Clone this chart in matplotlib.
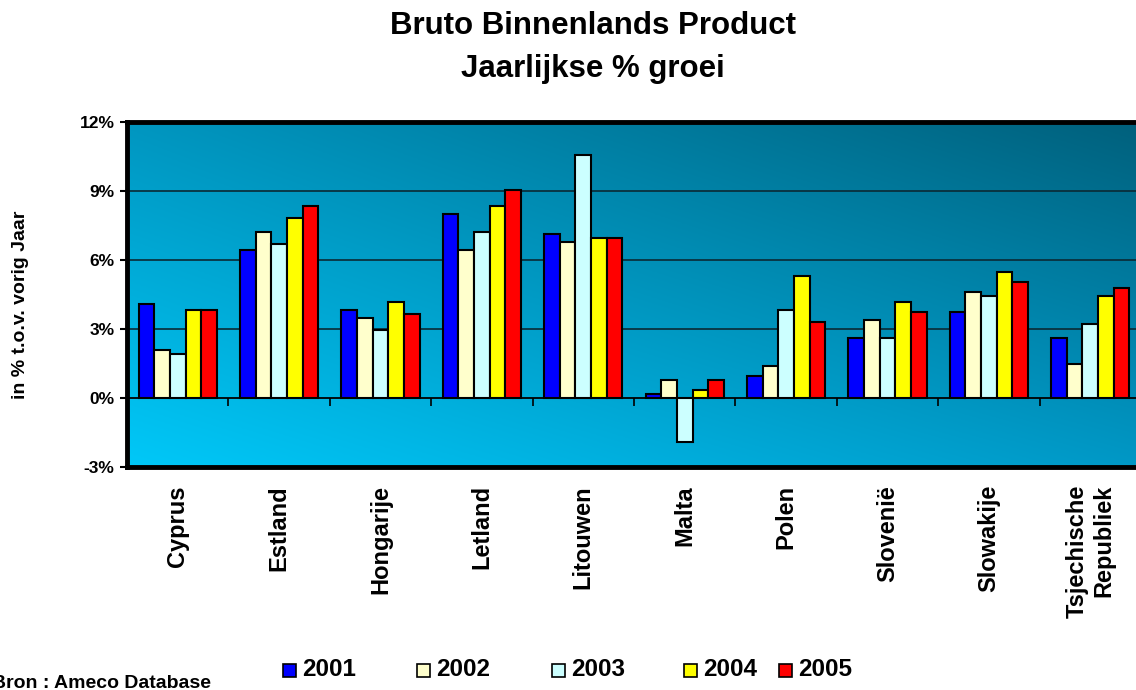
import numpy as np
import matplotlib
matplotlib.use("Agg")
import matplotlib.pyplot as plt
from matplotlib.patches import Rectangle

plt.rcParams['font.family'] = ['Liberation Sans', 'DejaVu Sans']

countries = ["Cyprus", "Estland", "Hongarije", "Letland", "Litouwen", "Malta",
             "Polen", "Slovenië", "Slowakije", "Tsjechische\nRepubliek"]
years = ["2001", "2002", "2003", "2004", "2005"]
g2001 = [4.1, 6.45, 3.84, 8.0, 7.14, 0.19, 0.97, 2.62, 3.75, 2.62]
g2002 = [2.1, 7.23, 3.49, 6.45, 6.8, 0.8, 1.41, 3.4, 4.62, 1.46]
g2003 = [1.9, 6.7, 2.97, 7.23, 10.55, -1.93, 3.84, 2.62, 4.45, 3.23]
g2004 = [3.83, 7.84, 4.17, 8.36, 6.97, 0.35, 5.32, 4.19, 5.49, 4.45]
g2005 = [3.83, 8.36, 3.66, 9.06, 6.97, 0.8, 3.32, 3.75, 5.06, 4.8]
series = [g2001, g2002, g2003, g2004, g2005]
colors = ["#0000FF", "#FFFFCC", "#CCFFFF", "#FFFF00", "#FF0000"]
yticks = [-3, 0, 3, 6, 9, 12]

fig = plt.figure(figsize=(11.36, 6.9), dpi=100)
ax = fig.add_axes([127/1136, 1-467/690, 1014/1136, 345/690])

# gradient background
ny, nx = 200, 300
yy, xx = np.mgrid[0:1:ny*1j, 0:1:nx*1j]  # yy 0 top -> 1 bottom
TL = np.array([0, 150, 192]); TR = np.array([0, 96, 124])
BL = np.array([0, 200, 248]); BR = np.array([0, 152, 198])
img = ((1-yy)[..., None]*((1-xx)[..., None]*TL + xx[..., None]*TR) +
       yy[..., None]*((1-xx)[..., None]*BL + xx[..., None]*BR)) / 255.0
ax.imshow(img, extent=[0, 1, 0, 1], transform=ax.transAxes, aspect='auto', zorder=0)

x = np.arange(len(countries))
w = 0.154
for k, (vals, c, yr) in enumerate(zip(series, colors, years)):
    ax.bar(x + (k-2)*w, vals, width=w, color=c, edgecolor='black', linewidth=1.5,
           zorder=3, label=yr)

ax.set_xlim(-0.5, len(countries)-0.5)
ax.set_ylim(-3, 12)
for gy in [3, 6, 9]:
    ax.axhline(gy, color='#0a2a35', linewidth=1.2, zorder=1)
ax.axhline(0, color='black', linewidth=1.3, zorder=2)
ax.vlines(x[:-1] + 0.5, -0.35, 0, color='black', linewidth=1.2, zorder=2)

ax.set_yticks(yticks)
ax.set_yticklabels([f"{v}%" for v in yticks], fontsize=12.5, fontweight='bold')
ax.tick_params(axis='y', direction='out', length=5, width=1.5, pad=4)
ax.set_xticks(x)
ax.set_xticklabels(countries, rotation=90, fontsize=17, fontweight='bold',
                   multialignment='right')
ax.tick_params(axis='x', length=0, pad=13)
for s in ax.spines.values():
    s.set_linewidth(3.5)

ax.set_ylabel("in % t.o.v. vorig Jaar", fontsize=14, fontweight='bold')
ax.yaxis.set_label_coords(-0.097, 0.47)

fig.text(593/1136, 1-34/690, "Bruto Binnenlands Product", ha='center', va='baseline',
         fontsize=22.5, fontweight='bold')
fig.text(593/1136, 1-77/690, "Jaarlijkse % groei", ha='center', va='baseline',
         fontsize=22.5, fontweight='bold')

# legend
leg_x = [283, 417, 552, 684, 779]
for lx, c, yr in zip(leg_x, colors, years):
    fig.patches.append(Rectangle((lx/1136, 1-677/690), 13/1136, 13/690,
                                 transform=fig.transFigure, facecolor=c,
                                 edgecolor='black', linewidth=1.2))
    fig.text((lx+19)/1136, 1-670/690, yr, ha='left', va='center',
             fontsize=17.5, fontweight='bold')

fig.text(-8/1136, 1-683/690, "Bron : Ameco Database", ha='left', va='center',
         fontsize=14, fontweight='bold')

fig.savefig("out.png", dpi=100)
